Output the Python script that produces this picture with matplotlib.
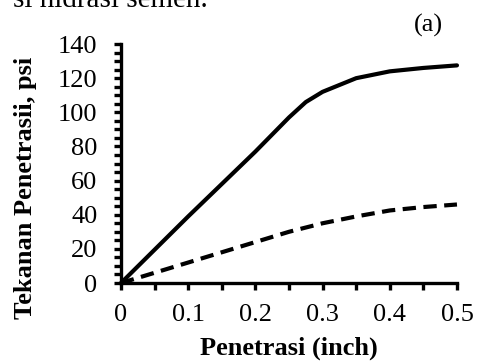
import numpy as np
import matplotlib
matplotlib.use("Agg")
import matplotlib.pyplot as plt
from matplotlib.ticker import MultipleLocator

plt.rcParams['font.family'] = ['Liberation Serif', 'DejaVu Serif']

# penetration (inch) vs penetration pressure (psi)
pen_solid = [0, 0.05, 0.1, 0.15, 0.2, 0.25, 0.275, 0.3, 0.35, 0.4, 0.45, 0.5]
psi_solid = [0, 19.5, 39, 58, 77, 97, 106, 112, 120, 124, 126, 127.5]
pen_dash = [0, 0.05, 0.1, 0.15, 0.2, 0.25, 0.3, 0.35, 0.4, 0.45, 0.5]
psi_dash = [0, 6, 12, 18, 24, 30, 35, 39, 42.5, 44.5, 46]
xticks = [0, 0.1, 0.2, 0.3, 0.4, 0.5]
xtick_labels = ['0', '0.1', '0.2', '0.3', '0.4', '0.5']

fig = plt.figure(figsize=(4.79, 3.64), dpi=100)
ax = fig.add_axes([0.2526, 0.2225, 0.954 - 0.2526, 0.879 - 0.2225])

ax.plot(pen_solid, psi_solid, color='black', lw=3.0, solid_joinstyle='round',
        solid_capstyle='round', clip_on=False)
ax.plot(pen_dash, psi_dash, color='black', lw=3.0, linestyle=(0, (3.2, 1.8)),
        dash_capstyle='butt', clip_on=False)

ax.set_xlim(0, 0.5)
ax.set_ylim(0, 140)
ax.set_xticks(xticks)
ax.set_xticklabels(xtick_labels)
ax.xaxis.set_minor_locator(MultipleLocator(0.05))
ax.yaxis.set_major_locator(MultipleLocator(20))
ax.yaxis.set_minor_locator(MultipleLocator(5))

for s in ['top', 'right']:
    ax.spines[s].set_visible(False)
for s in ['left', 'bottom']:
    ax.spines[s].set_linewidth(2.4)

ax.tick_params(which='both', direction='out', length=5, width=2.4, labelsize=19)
ax.tick_params(axis='x', pad=10)
ax.tick_params(axis='y', pad=12)

ax.set_xlabel('Penetrasi (inch)', fontsize=19, fontweight='bold', labelpad=8)
ax.set_ylabel('Tekanan Penetrasii, psi', fontsize=19, fontweight='bold')
ax.yaxis.set_label_coords(-0.25, 0.40)

fig.text(0.925, 0.929, '(a)', fontsize=19, ha='right', va='center')
fig.text(0.434, 0.981, 'si hidrasi semen.', fontsize=21, ha='right', va='baseline')

fig.savefig('out.png', dpi=100)
